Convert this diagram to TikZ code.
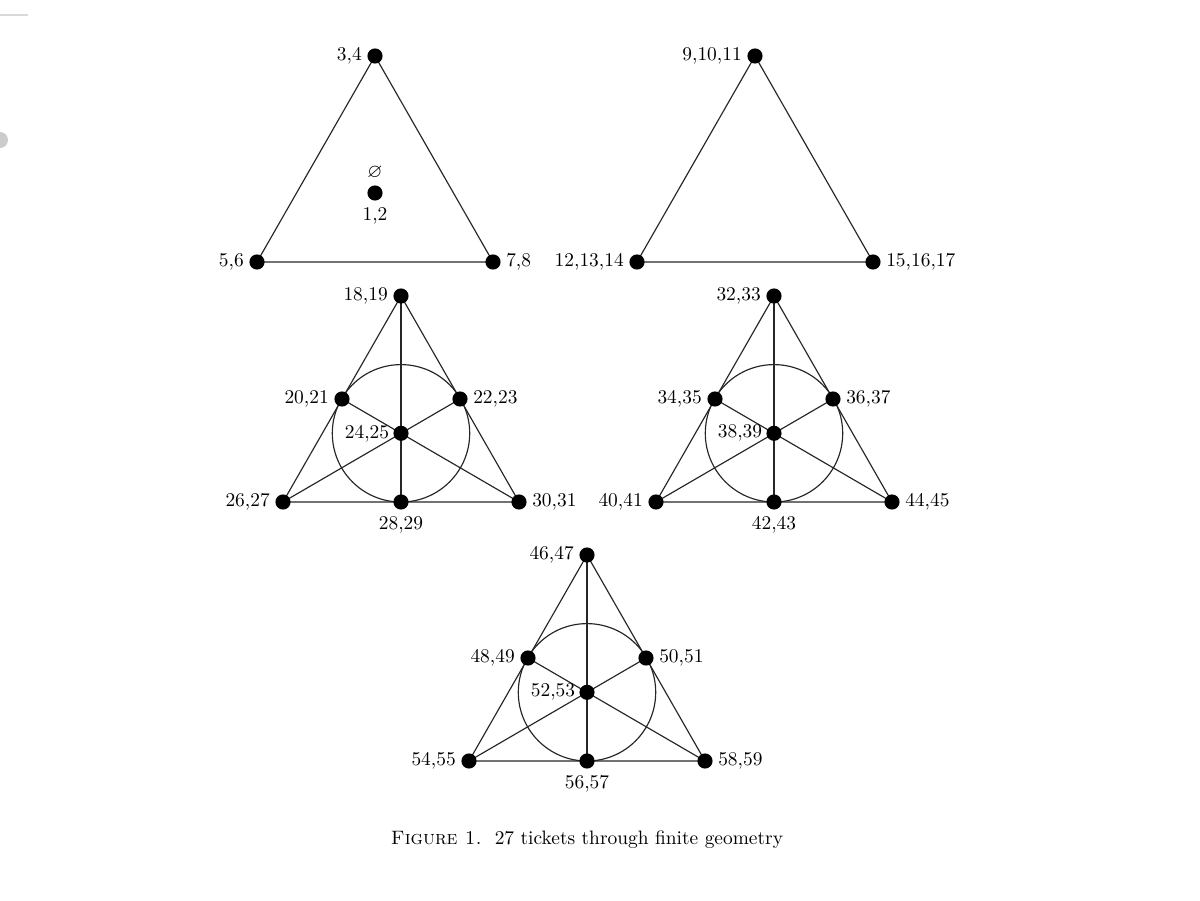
\documentclass[tikz,border=0pt]{standalone}
\usepackage{amssymb}
\usetikzlibrary{backgrounds}
\tikzset{
  dot/.style={circle,fill=black,inner sep=0pt,minimum size=7.8pt},
  lbl/.style={label distance=-0.8pt,font=\normalsize},
  lblb/.style={label distance=-0.3pt,font=\normalsize},
  edge/.style={line width=0.6pt,black!85},
}
\newcommand{\fanoplane}[8]{%
  \node[dot,label={[lbl]left:{#2}}] (#1t) at (0,0) {};
  \node[dot,label={[lbl]left:{#3}}] (#1ml) at (-59,103) {};
  \node[dot,label={[lbl]right:{#4}}] (#1mr) at (59,103) {};
  \node[dot,label={[lbl,label distance=-1.5pt]left:{#5}}] (#1c) at (0,137.3) {};
  \node[dot,label={[lbl]left:{#6}}] (#1bl) at (-118,206) {};
  \node[dot,label={[lblb]below:{#7}}] (#1bm) at (0,206) {};
  \node[dot,label={[lbl]right:{#8}}] (#1br) at (118,206) {};
  \begin{pgfonlayer}{background}
  \draw[edge] (#1t.center) -- (#1bl.center) -- (#1br.center) -- cycle;
  \draw[edge] (#1t.center) -- (#1bm.center);
  \draw[edge] (#1bl.center) -- (#1mr.center);
  \draw[edge] (#1br.center) -- (#1ml.center);
  \draw[edge] (#1c.center) circle (68.7);
  \end{pgfonlayer}
}
\begin{document}
\begin{tikzpicture}[x=0.515pt,y=-0.515pt]
\useasboundingbox (0,0) rectangle (1200,900);
% screenshot artifacts
\draw[black!15,line width=1pt] (0,15) -- (28,15);
\fill[black!20] (0,140) circle (8);
% triangle 1
\begin{scope}[shift={(375,56)}]
  \node[dot,label={[lbl]left:{3,4}}] (at) at (0,0) {};
  \node[dot,label={[lbl]left:{5,6}}] (abl) at (-118,206) {};
  \node[dot,label={[lbl]right:{7,8}}] (abr) at (118,206) {};
  \node[dot,label={[lblb]above:{$\varnothing$}},label={[lblb]below:{1,2}}] (ac) at (0,137) {};
  \begin{pgfonlayer}{background}
  \draw[edge] (at.center) -- (abl.center) -- (abr.center) -- cycle;
  \end{pgfonlayer}
\end{scope}
% triangle 2
\begin{scope}[shift={(755,56)}]
  \node[dot,label={[lbl]left:{9,10,11}}] (bt) at (0,0) {};
  \node[dot,label={[lbl]left:{12,13,14}}] (bbl) at (-118,206) {};
  \node[dot,label={[lbl]right:{15,16,17}}] (bbr) at (118,206) {};
  \begin{pgfonlayer}{background}
  \draw[edge] (bt.center) -- (bbl.center) -- (bbr.center) -- cycle;
  \end{pgfonlayer}
\end{scope}
\begin{scope}[shift={(401,296)}]
  \fanoplane{c}{18,19}{20,21}{22,23}{24,25}{26,27}{28,29}{30,31}
\end{scope}
\begin{scope}[shift={(774,296)}]
  \fanoplane{d}{32,33}{34,35}{36,37}{38,39}{40,41}{42,43}{44,45}
\end{scope}
\begin{scope}[shift={(587,555)}]
  \fanoplane{e}{46,47}{48,49}{50,51}{52,53}{54,55}{56,57}{58,59}
\end{scope}
\node (cap) at (587,840) {\textsc{Figure 1.}\ \ 27 tickets through finite geometry};
\end{tikzpicture}
\end{document}
